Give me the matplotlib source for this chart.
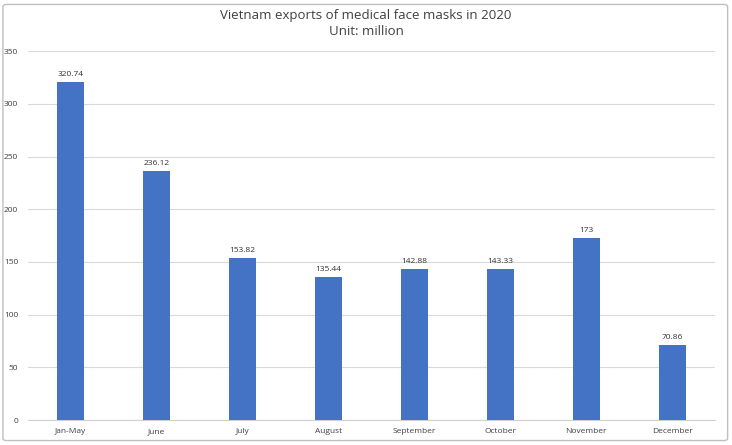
import matplotlib.pyplot as plt
import numpy as np
from matplotlib.patches import FancyBboxPatch

labels = ['Jan-May', 'June', 'July', 'August', 'September', 'October', 'November', 'December']
values = [320.74, 236.12, 153.82, 135.44, 142.88, 143.33, 173, 70.86]
value_labels = ['320.74', '236.12', '153.82', '135.44', '142.88', '143.33', '173', '70.86']

plt.rcParams['font.family'] = ['Open Sans', 'DejaVu Sans']

fig = plt.figure(figsize=(7.32, 4.45), dpi=100)
ax = fig.add_axes([0.038, 0.056, 0.939, 0.829])

x = np.arange(len(labels))
bars = ax.bar(x, values, 0.31, color='#4472C4', zorder=3)
ax.bar_label(bars, labels=value_labels, padding=3, fontsize=6, color='#333333')

ax.set_xlim(-0.5, len(labels) - 0.5)
ax.set_ylim(0, 350)
ax.set_yticks(np.arange(0, 351, 50))
ax.set_xticks(x, labels)
ax.tick_params(axis='both', length=0, labelsize=6, colors='#404040')
ax.tick_params(axis='x', pad=6)
ax.tick_params(axis='y', pad=7)
ax.grid(axis='y', color='#d9d9d9', linewidth=0.8, zorder=0)
for s in ['top', 'right', 'left']:
    ax.spines[s].set_visible(False)
ax.spines['bottom'].set_color('#d0d0d0')

fig.text(0.5, 0.966, 'Vietnam exports of medical face masks in 2020', ha='center', va='center',
         fontsize=9.5, color='#404040')
fig.text(0.5, 0.929, 'Unit: million', ha='center', va='center', fontsize=9.5, color='#404040')

border = FancyBboxPatch((0.004, 0.01), 0.99, 0.98, boxstyle='round,pad=0,rounding_size=0.005',
                        transform=fig.transFigure, fill=False, edgecolor='#bfbfbf', linewidth=1)
fig.patches.append(border)

plt.savefig('out.png', dpi=100)
